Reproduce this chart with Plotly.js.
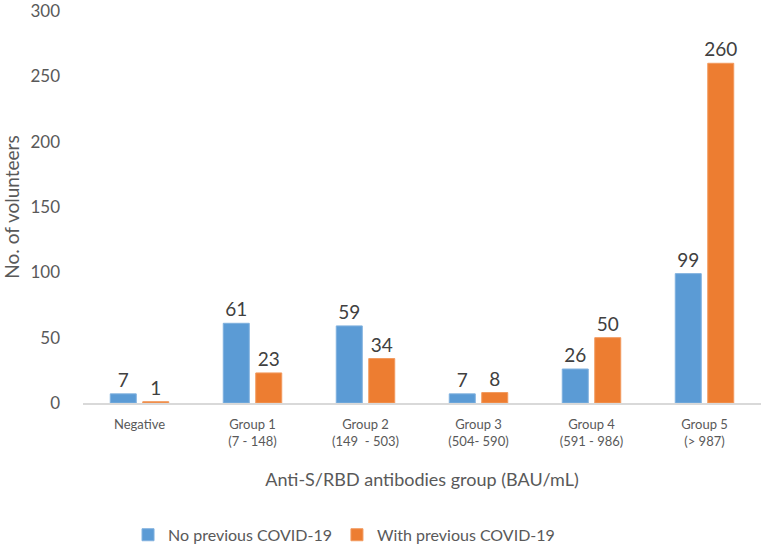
<!DOCTYPE html>
<html>
<head>
<meta charset="utf-8">
<script src="https://cdn.plot.ly/plotly-3.0.1.min.js"></script>
<style>
  html, body { margin: 0; padding: 0; background: #fff; }
  #chart { width: 765px; height: 548px; }
</style>
</head>
<body>
<div id="chart"></div>
<script>
// antibody groups along the x axis
var groups = ['Negative', 'Group 1<br>(7 - 148)', 'Group 2<br>(149  - 503)',
              'Group 3<br>(504- 590)', 'Group 4<br>(591 - 986)', 'Group 5<br>(> 987)'];

// volunteers per group
var noPrevious = [7, 61, 59, 7, 26, 99];
var withPrevious = [1, 23, 34, 8, 50, 260];

var yTicks = [0, 50, 100, 150, 200, 250, 300];

var labelFont = {family: 'Lato, sans-serif', size: 19, color: '#404040'};

var traceNo = {
  x: groups,
  y: noPrevious,
  name: 'No previous COVID-19',
  type: 'bar',
  marker: {color: '#5B9BD5', line: {color: '#7FB0DE', width: 1}},
  text: noPrevious.map(String),
  textposition: 'outside',
  constraintext: 'none',
  textfont: labelFont,
  cliponaxis: false,
  hoverinfo: 'y'
};

var traceWith = {
  x: groups,
  y: withPrevious,
  name: 'With previous COVID-19',
  type: 'bar',
  marker: {color: '#ED7D31', line: {color: '#F29A5E', width: 1}},
  text: withPrevious.map(String),
  textposition: 'outside',
  constraintext: 'none',
  textfont: labelFont,
  cliponaxis: false,
  hoverinfo: 'y'
};

var layout = {
  width: 765,
  height: 548,
  margin: {l: 83, r: 4, t: 11, b: 145, autoexpand: false},
  paper_bgcolor: '#fff',
  plot_bgcolor: '#fff',
  font: {family: 'Lato, sans-serif', color: '#595959'},
  barmode: 'group',
  bargap: 0.425,
  bargroupgap: 0.2,
  showlegend: true,
  legend: {
    orientation: 'h',
    x: 0.385, xanchor: 'center',
    yref: 'container',
    y: 0.024, yanchor: 'middle',
    font: {size: 16, color: '#595959'},
    itemwidth: 30,
    traceorder: 'normal'
  },
  xaxis: {
    type: 'category',
    showline: true,
    linecolor: '#D9D9D9',
    linewidth: 1.5,
    showgrid: false,
    zeroline: false,
    ticks: '',
    ticklabelstandoff: 9,
    tickfont: {size: 13, color: '#595959'},
    tickangle: 0,
    title: {
      text: 'Anti-S/RBD antibodies group (BAU/mL)',
      font: {size: 18, color: '#595959'},
      standoff: 25
    }
  },
  yaxis: {
    range: [0, 300],
    tickvals: yTicks,
    ticklabeloverflow: 'allow',
    showgrid: false,
    zeroline: false,
    showline: false,
    ticks: '',
    ticklabelstandoff: 22,
    tickfont: {size: 17, color: '#595959'},
    title: {
      text: 'No. of volunteers',
      font: {size: 19, color: '#595959'},
      standoff: 8
    }
  }
};

Plotly.newPlot('chart', [traceNo, traceWith], layout, {displayModeBar: false, staticPlot: true});
</script>
</body>
</html>
